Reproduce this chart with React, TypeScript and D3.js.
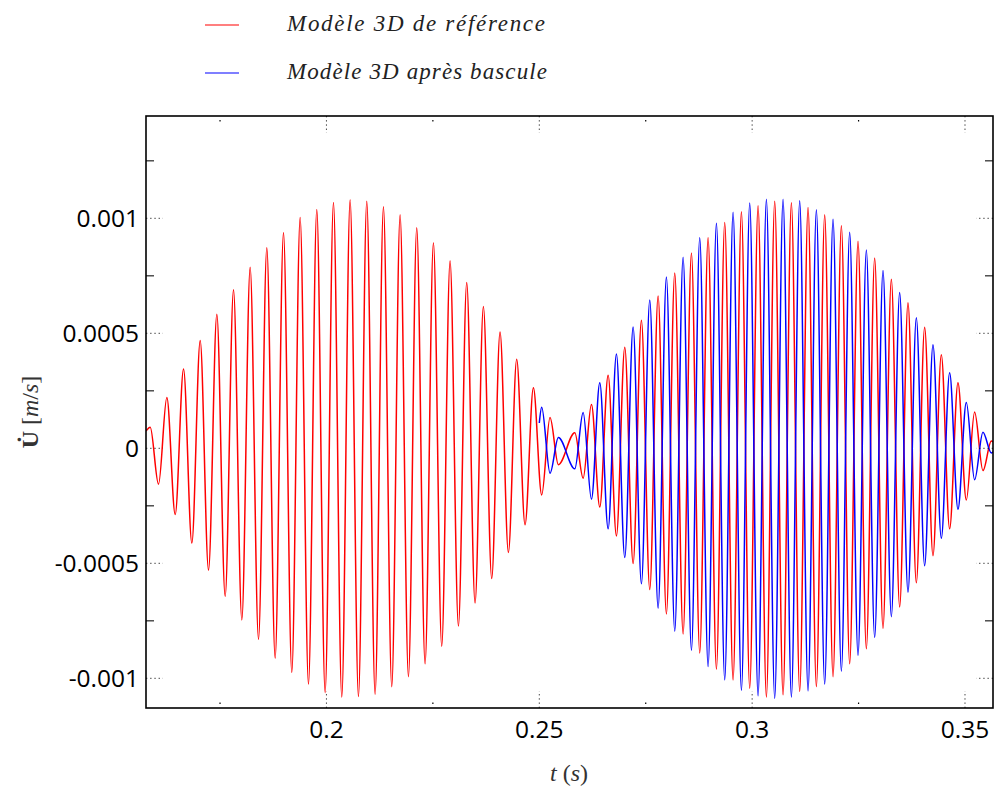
import React from 'react';
import * as d3 from 'd3';

// ---- data (velocity values in units of 1e-3 m/s) ----
const UNIT = 1e-3;
const X_DOMAIN = [0.15761, 0.35658];
const Y_DOMAIN = [-0.0011291, 0.0014448];

// extrema times of the first beat lobe (reference model only)
const T_FIRST = [
  0.1586, 0.16055, 0.16251, 0.16447, 0.16643, 0.16838, 0.17034, 0.1723, 0.17425, 0.17621,
  0.17817, 0.18012, 0.18208, 0.18404, 0.18599, 0.18795, 0.18991, 0.19186, 0.19382, 0.19578,
  0.19773, 0.19969, 0.20165, 0.2036, 0.20556, 0.20752, 0.20947, 0.21143, 0.21339, 0.21534,
  0.2173, 0.21926, 0.22121, 0.22317, 0.22513, 0.22708, 0.22904, 0.231, 0.23295, 0.23491,
  0.23687, 0.23882, 0.24078, 0.24274, 0.24469, 0.24665, 0.24861, 0.25056, 0.25252, 0.25448,
];
const RED_FIRST = [
  0.092, -0.156, 0.221, -0.288, 0.345, -0.412, 0.469, -0.53, 0.583, -0.644,
  0.689, -0.746, 0.787, -0.831, 0.872, -0.912, 0.937, -0.974, 1.003, -1.025,
  1.038, -1.062, 1.069, -1.081, 1.081, -1.079, 1.074, -1.069, 1.05, -1.036,
  1.015, -0.993, 0.959, -0.937, 0.894, -0.861, 0.815, -0.773, 0.721, -0.673,
  0.617, -0.566, 0.506, -0.453, 0.387, -0.332, 0.263, -0.203, 0.134, -0.071,
];

// extrema times of the second beat lobe (both models)
const T_SECOND = [
  0.25834, 0.2603, 0.26225, 0.26421, 0.26617, 0.26812, 0.27008, 0.27204, 0.27399, 0.27595,
  0.27791, 0.27986, 0.28182, 0.28378, 0.28574, 0.28769, 0.28965, 0.29161, 0.29356, 0.29552,
  0.29748, 0.29943, 0.30139, 0.30335, 0.3053, 0.30726, 0.30922, 0.31117, 0.31313, 0.31509,
  0.31704, 0.319, 0.32096, 0.32291, 0.32487, 0.32683, 0.32878, 0.33074, 0.3327, 0.33465,
  0.33661, 0.33857, 0.34052, 0.34248, 0.34444, 0.34639, 0.34835, 0.35031, 0.35226, 0.35422,
  0.35618,
];
const RED_SECOND = [
  0.068, -0.13, 0.19, -0.255, 0.318, -0.381, 0.439, -0.501, 0.557, -0.614,
  0.662, -0.72, 0.762, -0.807, 0.849, -0.89, 0.916, -0.96, 0.982, -1.007,
  1.029, -1.043, 1.055, -1.081, 1.074, -1.072, 1.068, -1.057, 1.047, -1.036,
  1.015, -0.993, 0.968, -0.937, 0.9, -0.871, 0.827, -0.783, 0.735, -0.69,
  0.633, -0.585, 0.526, -0.467, 0.407, -0.35, 0.285, -0.225, 0.158, -0.097,
  0.032,
];
const BLUE_SECOND = [
  -0.089, 0.156, -0.221, 0.285, -0.35, 0.41, -0.475, 0.527, -0.589, 0.645,
  -0.695, 0.745, -0.795, 0.831, -0.878, 0.915, -0.949, 0.978, -1.007, 1.026,
  -1.052, 1.066, -1.076, 1.083, -1.087, 1.083, -1.081, 1.076, -1.055, 1.037,
  -1.025, 0.996, -0.969, 0.939, -0.9, 0.862, -0.823, 0.773, -0.732, 0.677,
  -0.626, 0.568, -0.511, 0.45, -0.391, 0.328, -0.265, 0.199, -0.137, 0.07,
  -0.02,
];
// blue model starts at the switch time
const BLUE_HEAD_T = [0.25, 0.25056, 0.25252, 0.25448];
const BLUE_HEAD_V = [0.11, 0.179, -0.108, 0.047];
// values at the plot edges
const RED_EDGE_V = [0.075, 0.028];
const BLUE_END_V = -0.015;

const X_TICKS = [0.2, 0.25, 0.3, 0.35];
const X_TICK_LABELS = ['0.2', '0.25', '0.3', '0.35'];
const X_MINOR = [0.175, 0.225, 0.275, 0.325];
const Y_TICKS = [0.001, 0.0005, 0, -0.0005, -0.001];
const Y_TICK_LABELS = ['0.001', '0.0005', '0', '-0.0005', '-0.001'];
const Y_MINOR = [0.00125, 0.00075, 0.00025, -0.00025, -0.00075];

const LEGEND = ['Modèle 3D de référence', 'Modèle 3D après bascule'];
const COLORS = ['#ff0000', '#0000ff'];

// ---- layout ----
const W = 995, H = 789;
const L = 146, R = 993, T = 116, B = 708;

export default function App() {
  const x = d3.scaleLinear().domain(X_DOMAIN).range([L, R]);
  const y = d3.scaleLinear().domain(Y_DOMAIN).range([B, T]);

  const red: [number, number][] = [
    [X_DOMAIN[0], RED_EDGE_V[0]],
    ...T_FIRST.map((t, i) => [t, RED_FIRST[i]] as [number, number]),
    ...T_SECOND.map((t, i) => [t, RED_SECOND[i]] as [number, number]),
    [X_DOMAIN[1], RED_EDGE_V[1]],
  ];
  const blue: [number, number][] = [
    ...BLUE_HEAD_T.map((t, i) => [t, BLUE_HEAD_V[i]] as [number, number]),
    ...T_SECOND.map((t, i) => [t, BLUE_SECOND[i]] as [number, number]),
    [X_DOMAIN[1], BLUE_END_V],
  ];

  const line = d3
    .line<[number, number]>()
    .x((d) => x(d[0]))
    .y((d) => y(d[1] * UNIT))
    .curve(d3.curveMonotoneX);

  const tickFont = "'Open Sans', 'DejaVu Sans', sans-serif";
  const serif = "'Liberation Serif', 'DejaVu Serif', serif";

  return (
    <svg
      width={W}
      height={H}
      style={{ position: 'absolute', left: 0, top: 0, background: '#fff' }}
    >
      <rect x={0} y={0} width={W} height={H} fill="#fff" />
      <defs>
        <clipPath id="plotclip">
          <rect x={L} y={T} width={R - L} height={B - T} />
        </clipPath>
      </defs>

      {/* legend */}
      {LEGEND.map((lab, i) => (
        <g key={lab}>
          <line x1={205} x2={239} y1={25 + i * 48} y2={25 + i * 48} stroke={COLORS[i]} strokeWidth={1.2} />
          <text
            x={287}
            y={31 + i * 48}
            fontFamily={serif}
            fontStyle="italic"
            fontSize={23}
            textLength={i === 0 ? 258 : 260}
            lengthAdjust="spacing"
            fill="#222"
          >
            {lab}
          </text>
        </g>
      ))}

      {/* series */}
      <g clipPath="url(#plotclip)" fill="none" strokeWidth={1.5} strokeLinejoin="round">
        <path d={line(red) || ''} stroke={COLORS[0]} />
        <path d={line(blue) || ''} stroke={COLORS[1]} />
      </g>

      {/* y ticks */}
      {Y_TICKS.map((v) => (
        <g key={'ym' + v} stroke="#000" strokeWidth={1} strokeDasharray="1.3 2.9" opacity={0.8}>
          <line x1={L} x2={L + 17} y1={y(v)} y2={y(v)} />
          <line x1={R} x2={R - 17} y1={y(v)} y2={y(v)} />
        </g>
      ))}
      {Y_MINOR.map((v) => (
        <g key={'yn' + v} stroke="#333" strokeWidth={1.3}>
          <line x1={L} x2={L + 8} y1={y(v)} y2={y(v)} />
          <line x1={R} x2={R - 8} y1={y(v)} y2={y(v)} />
        </g>
      ))}
      {/* x ticks */}
      {X_TICKS.map((v) => (
        <g key={'xm' + v} stroke="#000" strokeWidth={1} strokeDasharray="1.3 2.9" opacity={0.8}>
          <line x1={x(v)} x2={x(v)} y1={B} y2={B - 17} />
          <line x1={x(v)} x2={x(v)} y1={T} y2={T + 17} />
        </g>
      ))}
      {X_MINOR.map((v) => (
        <g key={'xn' + v} stroke="#000" strokeWidth={1.2}>
          <line x1={x(v)} x2={x(v)} y1={B - 4} y2={B - 5.5} />
          <line x1={x(v)} x2={x(v)} y1={T + 4} y2={T + 5.5} />
        </g>
      ))}

      {/* frame */}
      <rect x={L} y={T} width={R - L} height={B - T} fill="none" stroke="#000" strokeWidth={1.6} />

      {/* tick labels */}
      {Y_TICKS.map((v, i) => (
        <text
          key={'yl' + v}
          x={139}
          y={y(v)}
          dy="0.36em"
          textAnchor="end"
          fontFamily={tickFont}
          fontSize={24.5}
          fill="#000"
        >
          {Y_TICK_LABELS[i]}
        </text>
      ))}
      {X_TICKS.map((v, i) => (
        <text
          key={'xl' + v}
          x={x(v)}
          y={737.5}
          textAnchor="middle"
          fontFamily={tickFont}
          fontSize={24.5}
          fill="#000"
        >
          {X_TICK_LABELS[i]}
        </text>
      ))}

      {/* axis titles */}
      <text x={569} y={781} textAnchor="middle" fontFamily={serif} fontSize={24} fill="#333">
        <tspan fontStyle="italic">t</tspan>
        <tspan> (</tspan>
        <tspan fontStyle="italic">s</tspan>
        <tspan>)</tspan>
      </text>
      <text
        transform="translate(38,412) rotate(-90)"
        textAnchor="middle"
        fontFamily={serif}
        fontSize={24}
        fill="#333"
      >
        <tspan fontWeight="bold">U̇</tspan>
        <tspan> [</tspan>
        <tspan fontStyle="italic">m</tspan>
        <tspan>/</tspan>
        <tspan fontStyle="italic">s</tspan>
        <tspan>]</tspan>
      </text>
    </svg>
  );
}
